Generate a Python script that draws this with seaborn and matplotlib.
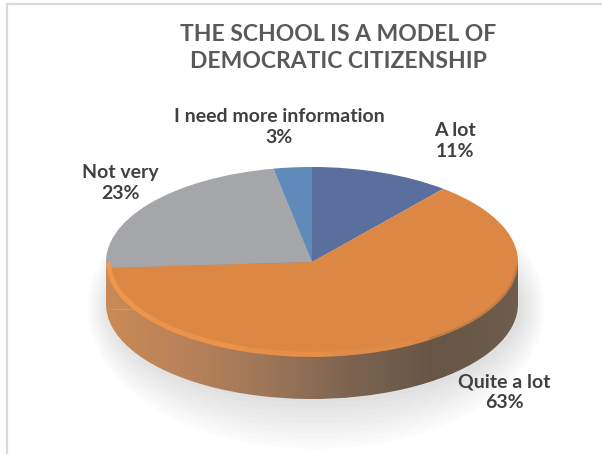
import numpy as np
import matplotlib
matplotlib.use("Agg")
import matplotlib.pyplot as plt
import seaborn as sns
from matplotlib.colors import LinearSegmentedColormap
from matplotlib.patches import Rectangle, Ellipse, Arc
from matplotlib.lines import Line2D

# Survey answers, in the order the slices run clockwise from 12 o'clock
categories = ["A lot", "Quite a lot", "Not very", "I need more information"]
shares = [11, 63, 23, 3]
slice_colors = ["#5b6f9f", "#dd8744", "#a5a6a9", "#5f8ab9"]
title_lines = ["THE SCHOOL IS A MODEL OF", "DEMOCRATIC CITIZENSHIP"]

sns.set_theme(style="white")
plt.rcParams["font.family"] = ["Lato", "DejaVu Sans"]

W, H = 602, 454
fig = plt.figure(figsize=(W / 100, H / 100), dpi=100)
fig.patch.set_facecolor("white")
ax = fig.add_axes([0, 0, 1, 1])

# pie geometry in pixels: centre, horizontal / vertical radii, thickness
CX, CY, RX, RY, DEPTH = 312, 262, 206, 95, 42
d = DEPTH / RY

def fig_xy(px, py):
    return px / W, 1 - py / H

# soft shadow under the disc
for k in range(10):
    grow = 0.012 * k
    ax.add_patch(Ellipse((0.02, -d - 0.04), 2.0 + grow * 2, 2.0 + grow * 9,
                         facecolor="#7f7f7f", edgecolor="none", alpha=0.025, zorder=0))

# bottom face of the disc
bottom_wedges, _ = ax.pie(shares, colors=slice_colors, startangle=90, counterclock=False,
                          radius=1, center=(0, -d), wedgeprops=dict(linewidth=0, zorder=1))
for w in bottom_wedges:
    w.set_visible(False)

# shaded rim: horizontal gradient clipped to the bottom face and the extruded band
rim_cmap = LinearSegmentedColormap.from_list(
    "rim", ["#c98a55", "#b8825a", "#9c7558", "#7b6350", "#675545", "#6e5c4c"])
grad = np.linspace(0, 1, 256)[None, :]
band = Rectangle((-1, -d), 2, d, transform=ax.transData)
for clip in list(bottom_wedges) + [band]:
    img = ax.imshow(grad, extent=(-1, 1, -d - 1.05, 0), cmap=rim_cmap,
                    aspect="auto", zorder=2, interpolation="bilinear")
    img.set_clip_path(clip)

# top face
top_wedges, _ = ax.pie(shares, colors=slice_colors, startangle=90, counterclock=False,
                       radius=1, center=(0, 0), wedgeprops=dict(linewidth=0, zorder=3))

# bevel highlight along the front edge of the top face, fading to the right
for t1, t2, a in [(180, 215, 0.75), (215, 250, 0.6), (250, 275, 0.4), (275, 300, 0.2)]:
    ax.add_patch(Arc((0, 0), 1.975, 1.94, theta1=t1, theta2=t2,
                     color="#f59c50", lw=3.5, alpha=a, zorder=4))
ax.add_patch(Arc((0, 0), 1.99, 1.98, theta1=305, theta2=358,
                 color="#8a6a52", lw=2.0, alpha=0.35, zorder=4))

ax.set_aspect("auto")
ax.set_xlim(-CX / RX, (W - CX) / RX)
ax.set_ylim(-(H - CY) / RY, CY / RY)
ax.axis("off")

# title
fig.text(*fig_xy(338, 48), "\n".join(title_lines), ha="center", va="center",
         fontsize=16.5, fontweight="bold", color="#595959", linespacing=1.3)

# data labels
label_pos = {"A lot": (455, 141), "Quite a lot": (504, 392),
             "Not very": (120, 183), "I need more information": (279, 127)}
for name, val in zip(categories, shares):
    fig.text(*fig_xy(*label_pos[name]), f"{name}\n{val}%", ha="center", va="center",
             fontsize=14, fontweight="bold", color="#404040", linespacing=1.25)

# thin frame lines on the top and left edges
fig.add_artist(Line2D([6.5 / W, 1], [1 - 3.5 / H, 1 - 3.5 / H], color="#d9d9d9", lw=1.6))
fig.add_artist(Line2D([6.5 / W, 6.5 / W], [0, 1 - 3.5 / H], color="#d9d9d9", lw=1.6))

fig.savefig("out.png", dpi=100)
